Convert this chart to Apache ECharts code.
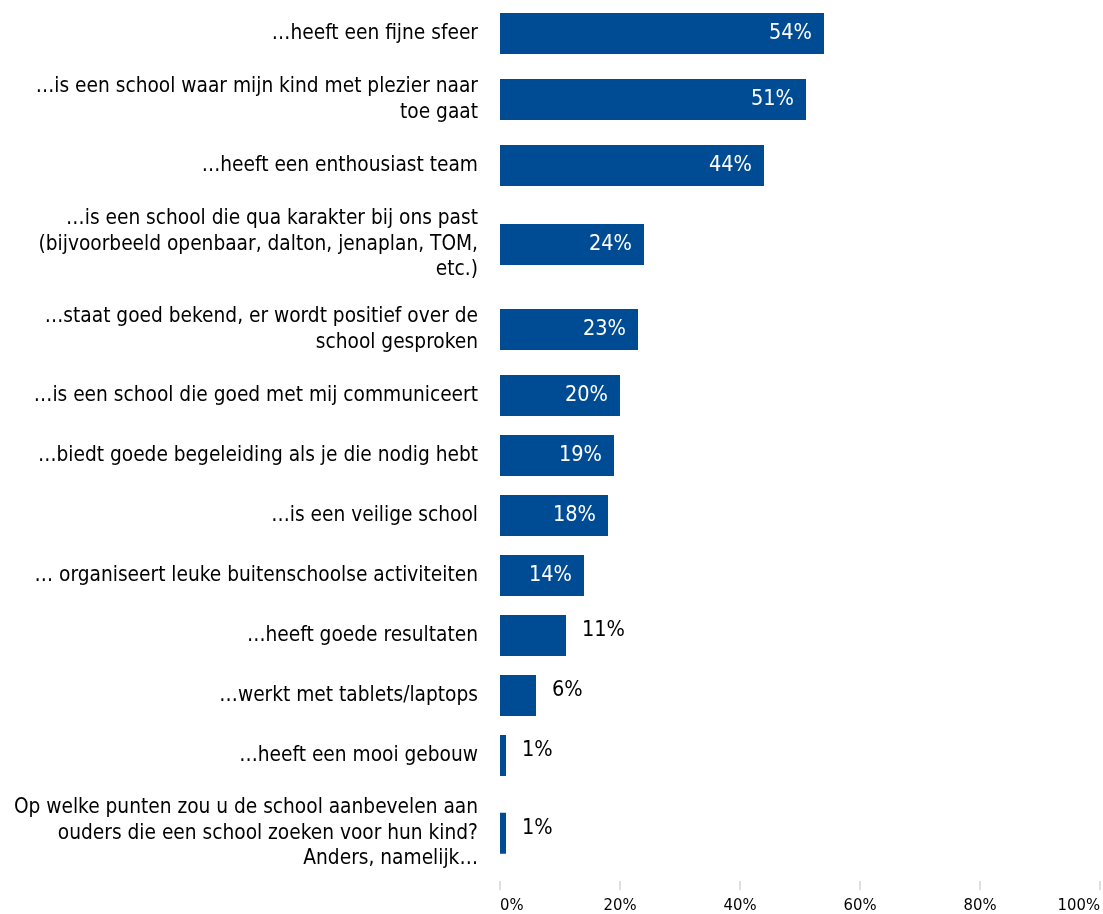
<!DOCTYPE html>
<html>
<head>
<meta charset="utf-8">
<script src="https://cdn.jsdelivr.net/npm/echarts@6/dist/echarts.min.js"></script>
<style>
  html, body { margin: 0; padding: 0; background: #ffffff; }
  #chart { width: 1103px; height: 914px; }
</style>
</head>
<body>
<div id="chart"></div>
<script>
// ---- data ----
const categories = [
  '…heeft een fijne sfeer',
  '…is een school waar mijn kind met plezier naar\ntoe gaat',
  '…heeft een enthousiast team',
  '…is een school die qua karakter bij ons past\n(bijvoorbeeld openbaar, dalton, jenaplan, TOM,\netc.)',
  '…staat goed bekend, er wordt positief over de\nschool gesproken',
  '…is een school die goed met mij communiceert',
  '…biedt goede begeleiding als je die nodig hebt',
  '…is een veilige school',
  '… organiseert leuke buitenschoolse activiteiten',
  '…heeft goede resultaten',
  '…werkt met tablets/laptops',
  '…heeft een mooi gebouw',
  'Op welke punten zou u de school aanbevelen aan\nouders die een school zoeken voor hun kind?\nAnders, namelijk…'
];
const values = [54, 51, 44, 24, 23, 20, 19, 18, 14, 11, 6, 1, 1];
const xTicks = [0, 20, 40, 60, 80, 100];

// ---- layout (row height from number of label lines) ----
const FONT = '"DejaVu Sans Condensed", "DejaVu Sans", sans-serif';
const rowHeightByLines = { 1: 60, 2: 72, 3: 98 };
const topStart = 3.5;
const gridLeft = 500;
const gridWidth = 600;
const barColor = '#004c94';
const insideThreshold = 12;

const grids = [], xAxes = [], yAxes = [], series = [];
let cursor = topStart;
categories.forEach((cat, i) => {
  const lines = cat.split('\n').length;
  const h = rowHeightByLines[lines];
  const isLast = i === categories.length - 1;
  grids.push({ left: gridLeft, width: gridWidth, top: cursor, height: h, containLabel: false });
  cursor += h;
  xAxes.push({
    type: 'value', gridIndex: i,
    min: xTicks[0], max: xTicks[xTicks.length - 1], interval: xTicks[1] - xTicks[0],
    show: isLast,
    axisLine: { show: false },
    axisTick: { show: true, length: 9, lineStyle: { color: '#d4d4d4', width: 1.5 } },
    splitLine: { show: false },
    axisLabel: {
      show: true, formatter: '{value}%', fontFamily: FONT, fontSize: 16.5, color: '#000',
      margin: 16, alignMinLabel: 'left', alignMaxLabel: 'right'
    }
  });
  yAxes.push({
    type: 'category', gridIndex: i, data: [cat], inverse: true,
    axisLine: { show: false }, axisTick: { show: false }, splitLine: { show: false },
    axisLabel: { fontFamily: FONT, fontSize: 20.7, lineHeight: 25.5, color: '#000', margin: 22, align: 'right', padding: [5, 0, 0, 0] }
  });
  const inside = values[i] > insideThreshold;
  series.push({
    type: 'bar', xAxisIndex: i, yAxisIndex: i,
    data: [values[i]], barWidth: 41,
    itemStyle: { color: barColor },
    label: inside
      ? { show: true, position: 'insideRight', distance: 12, formatter: '{c}%', color: '#fff', fontFamily: FONT, fontSize: 21.5 }
      : { show: true, position: 'right', distance: 16, offset: [0, -5], formatter: '{c}%', color: '#000', fontFamily: FONT, fontSize: 21.5 },
    animation: false,
    silent: true
  });
});

const chart = echarts.init(document.getElementById('chart'), null, { renderer: 'canvas' });
chart.setOption({
  backgroundColor: '#ffffff',
  animation: false,
  grid: grids,
  xAxis: xAxes,
  yAxis: yAxes,
  series: series
});
</script>
</body>
</html>
